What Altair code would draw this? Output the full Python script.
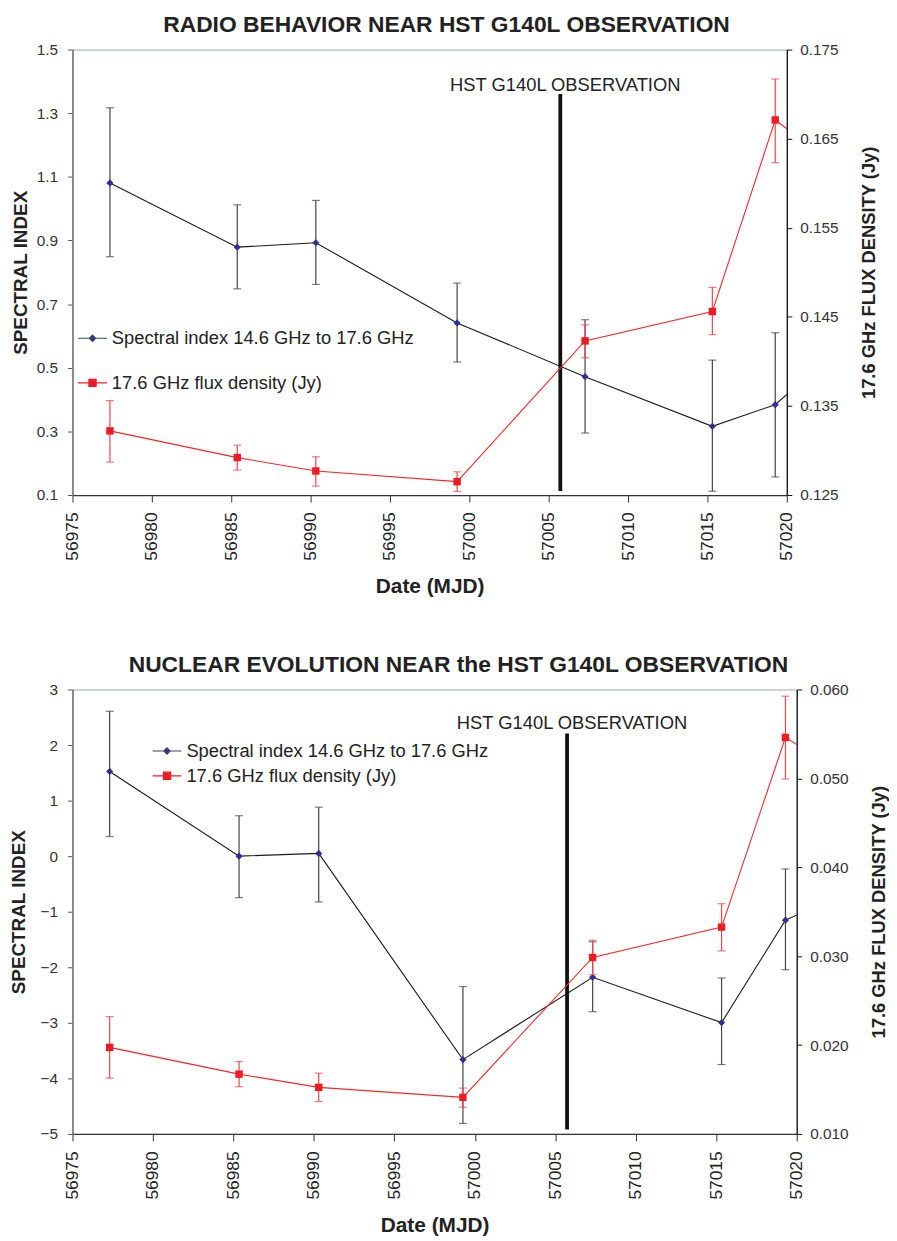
import altair as alt
import pandas as pd

# ---------------- data: top panel (radio behaviour) ----------------
top_mjd     = [56977.36, 56985.38, 56990.33, 56999.23, 57007.29, 57015.31, 57019.27]
top_si      = [1.081, 0.879, 0.893, 0.641, 0.472, 0.316, 0.384]
top_si_lo   = [0.849, 0.748, 0.762, 0.518, 0.295, 0.112, 0.157]
top_si_hi   = [1.317, 1.012, 1.026, 0.766, 0.651, 0.524, 0.610]
top_flux    = [0.1322, 0.1292, 0.1277, 0.1265, 0.1423, 0.1456, 0.1671]
top_flux_lo = [0.1287, 0.1278, 0.1260, 0.1254, 0.1404, 0.1430, 0.1623]
top_flux_hi = [0.1356, 0.1306, 0.1293, 0.1276, 0.1441, 0.1483, 0.1717]
# following epoch (beyond the plotted range; only the segment toward it shows)
top_next = {"mjd": 57023.0, "si": 0.55, "flux": 0.162}

# ---------------- data: bottom panel (nuclear evolution) ----------------
bot_mjd     = [56977.31, 56985.35, 56990.30, 56999.26, 57007.32, 57015.33, 57019.30]
bot_si      = [1.525, 0.00, 0.05, -3.662, -2.18, -2.996, -1.152]
bot_si_lo   = [0.353, -0.747, -0.824, -4.81, -2.80, -3.751, -2.044]
bot_si_hi   = [2.607, 0.728, 0.882, -2.347, -1.54, -2.193, -0.23]
bot_flux    = [0.01974, 0.01673, 0.01524, 0.01412, 0.02985, 0.03327, 0.05461]
bot_flux_lo = [0.01628, 0.01531, 0.01364, 0.01301, 0.02791, 0.03059, 0.04993]
bot_flux_hi = [0.02320, 0.01814, 0.01684, 0.01516, 0.03180, 0.03590, 0.05925]
bot_next = {"mjd": 57023.0, "si": -0.67, "flux": 0.0504}

hst_mjd = 57005.73
hst_label = "HST G140L OBSERVATION"
x_ticks = [56975, 56980, 56985, 56990, 56995, 57000, 57005, 57010, 57015, 57020]

S1 = "Spectral index 14.6 GHz to 17.6 GHz"
S2 = "17.6 GHz flux density (Jy)"

NAVY = "#2e3192"
RED = "#ed1c24"
LINE_BLK = "#1a1a1a"
ERR_BLK = "#444444"
ERR_RED = "#f0444a"
FONT = "Liberation Sans"

DIAMOND_PATH = "M-1,0H1M0,-0.22L0.22,0L0,0.22L-0.22,0Z"
SQUARE_PATH = "M-1,0H1M-0.25,-0.25H0.25V0.25H-0.25Z"


def panel(title, title_dx, mjd, si, si_lo, si_hi, flux, flux_lo, flux_hi, nxt,
          si_dom, si_vals, si_fmt, fl_dom, fl_vals, obs_top, obs_bot, text_y,
          width, height, leg_x, leg_y, leg_rowpad, left_title_pad):
    df = pd.DataFrame({"mjd": mjd, "si": si, "si_lo": si_lo, "si_hi": si_hi,
                       "flux": flux, "flux_lo": flux_lo, "flux_hi": flux_hi})
    line_df = pd.concat([df[["mjd", "si", "flux"]], pd.DataFrame([nxt])], ignore_index=True)
    obs_df = pd.DataFrame({"mjd": [hst_mjd], "top": [obs_top], "bot": [obs_bot],
                           "ty": [text_y], "label": [hst_label]})
    leg_df = pd.DataFrame({"series": [S1, S2]})

    xscale = alt.Scale(domain=[56975, 57020], nice=False, zero=False)
    xaxis = alt.Axis(values=x_ticks, format="d", labelAngle=270, title="Date (MJD)",
                     grid=False, labelFontSize=17.5, labelFont=FONT, labelColor="#222",
                     tickSize=7, labelPadding=10, tickColor="#333", domainColor="#333",
                     domainWidth=1.3, titleFontSize=21, titleFont=FONT, titleFontWeight="bold",
                     titleColor="#222", titlePadding=16)
    X = alt.X("mjd:Q", scale=xscale, axis=xaxis)

    lscale = alt.Scale(domain=si_dom, nice=False, zero=False)
    laxis = alt.Axis(orient="left", values=si_vals, format=si_fmt, title="SPECTRAL INDEX",
                     grid=False, labelFontSize=15.5, labelFont=FONT, labelColor="#333",
                     tickSize=5, labelPadding=10, tickColor="#555", domainColor="#7a7a7a",
                     domainWidth=1.6, titleFontSize=19, titleFont=FONT, titleFontWeight="bold",
                     titleColor="#222", titlePadding=left_title_pad)
    rscale = alt.Scale(domain=fl_dom, nice=False, zero=False)
    raxis = alt.Axis(orient="right", values=fl_vals, format=".3f",
                     title="17.6 GHz FLUX DENSITY (Jy)", grid=False, labelFontSize=15.5,
                     labelFont=FONT, labelColor="#333", tickSize=5, labelPadding=8,
                     tickColor="#111", domainColor="#111", domainWidth=1.3,
                     titleFontSize=18.5, titleFont=FONT, titleFontWeight="bold",
                     titleColor="#222", titleAngle=270, titleBaseline="top", titlePadding=22)

    base = alt.Chart(df)

    # ----- spectral index (left axis)
    si_err = base.mark_rule(color=ERR_BLK, strokeWidth=1.2).encode(
        x=X, y=alt.Y("si_lo:Q", scale=lscale, axis=laxis), y2="si_hi:Q")
    si_cap_lo = base.mark_tick(color=ERR_BLK, orient="horizontal", size=8, thickness=1.2).encode(
        x=X, y=alt.Y("si_lo:Q", scale=lscale, axis=laxis))
    si_cap_hi = base.mark_tick(color=ERR_BLK, orient="horizontal", size=8, thickness=1.2).encode(
        x=X, y=alt.Y("si_hi:Q", scale=lscale, axis=laxis))
    si_line = alt.Chart(line_df).mark_line(color=LINE_BLK, strokeWidth=1.1, clip=True).encode(
        x=X, y=alt.Y("si:Q", scale=lscale, axis=laxis))
    si_pts = base.mark_point(shape="diamond", filled=True, size=52, color=NAVY, opacity=1).encode(
        x=X, y=alt.Y("si:Q", scale=lscale, axis=laxis))
    obs_rule = alt.Chart(obs_df).mark_rule(color="#111", strokeWidth=3.8).encode(
        x=X, y=alt.Y("top:Q", scale=lscale, axis=laxis), y2="bot:Q")
    obs_text = alt.Chart(obs_df).mark_text(font=FONT, fontSize=18.5, color="#222",
                                           align="center", baseline="middle", dx=5).encode(
        x=X, y=alt.Y("ty:Q", scale=lscale, axis=laxis), text="label:N")

    legend = alt.Legend(title=None, orient="none", legendX=leg_x, legendY=leg_y,
                        symbolSize=841, symbolStrokeWidth=1.2, labelFontSize=18.5,
                        labelFont=FONT, labelColor="#222", labelOffset=4, labelLimit=0,
                        rowPadding=leg_rowpad, padding=0, symbolOpacity=1)
    leg_layer = alt.Chart(leg_df).transform_filter("false").mark_point(
        filled=True, opacity=1).encode(
        fill=alt.Fill("series:N", scale=alt.Scale(domain=[S1, S2], range=[NAVY, RED]), legend=legend),
        stroke=alt.Stroke("series:N", scale=alt.Scale(domain=[S1, S2], range=["#3a3f7a", RED]), legend=legend),
        shape=alt.Shape("series:N", scale=alt.Scale(domain=[S1, S2], range=[DIAMOND_PATH, SQUARE_PATH]), legend=legend),
    )

    left = alt.layer(si_err, si_cap_lo, si_cap_hi, si_line, si_pts, obs_rule, obs_text, leg_layer)

    # ----- flux density (right axis)
    fl_err = base.mark_rule(color=ERR_RED, strokeWidth=1.2).encode(
        x=X, y=alt.Y("flux_lo:Q", scale=rscale, axis=raxis), y2="flux_hi:Q")
    fl_cap_lo = base.mark_tick(color=ERR_RED, orient="horizontal", size=8, thickness=1.2).encode(
        x=X, y=alt.Y("flux_lo:Q", scale=rscale, axis=raxis))
    fl_cap_hi = base.mark_tick(color=ERR_RED, orient="horizontal", size=8, thickness=1.2).encode(
        x=X, y=alt.Y("flux_hi:Q", scale=rscale, axis=raxis))
    fl_line = alt.Chart(line_df).mark_line(color="#f2262c", strokeWidth=1.1, clip=True).encode(
        x=X, y=alt.Y("flux:Q", scale=rscale, axis=raxis))
    fl_pts = base.mark_point(shape="square", filled=True, size=56, color=RED, opacity=1).encode(
        x=X, y=alt.Y("flux:Q", scale=rscale, axis=raxis))
    right = alt.layer(fl_err, fl_cap_lo, fl_cap_hi, fl_line, fl_pts)

    return alt.layer(left, right).resolve_scale(y="independent").properties(
        width=width, height=height,
        title=alt.TitleParams(title, font=FONT, fontSize=23, fontWeight="bold", color="#222",
                              anchor="middle", frame="group", dx=title_dx, offset=-12,
                              baseline="alphabetic"))


top = panel("RADIO BEHAVIOR NEAR HST G140L OBSERVATION", 17,
            top_mjd, top_si, top_si_lo, top_si_hi, top_flux, top_flux_lo, top_flux_hi, top_next,
            [0.1, 1.5], [0.1, 0.3, 0.5, 0.7, 0.9, 1.1, 1.3, 1.5], ".1f",
            [0.125, 0.175], [0.125, 0.135, 0.145, 0.155, 0.165, 0.175],
            1.36, 0.113, 1.387, 720, 449, 4.7, 275.5, 20, 6)

bottom = panel("NUCLEAR  EVOLUTION NEAR the HST G140L OBSERVATION", 24,
               bot_mjd, bot_si, bot_si_lo, bot_si_hi, bot_flux, bot_flux_lo, bot_flux_hi, bot_next,
               [-5, 3], [-5, -4, -3, -2, -1, 0, 1, 2, 3], "d",
               [0.010, 0.060], [0.010, 0.020, 0.030, 0.040, 0.050, 0.060],
               2.209, -4.918, 2.393, 730, 448, 79.8, 46.5, 0, 12)

chart = alt.vconcat(top, bottom, spacing=55).resolve_scale(
    x="independent", fill="independent", stroke="independent", shape="independent"
).resolve_legend(fill="independent", stroke="independent", shape="independent").properties(
    padding=0
).configure_view(stroke="#9aa4b6", strokeWidth=1)

chart.save("out.html", embed_options={"renderer": "svg", "actions": False})
